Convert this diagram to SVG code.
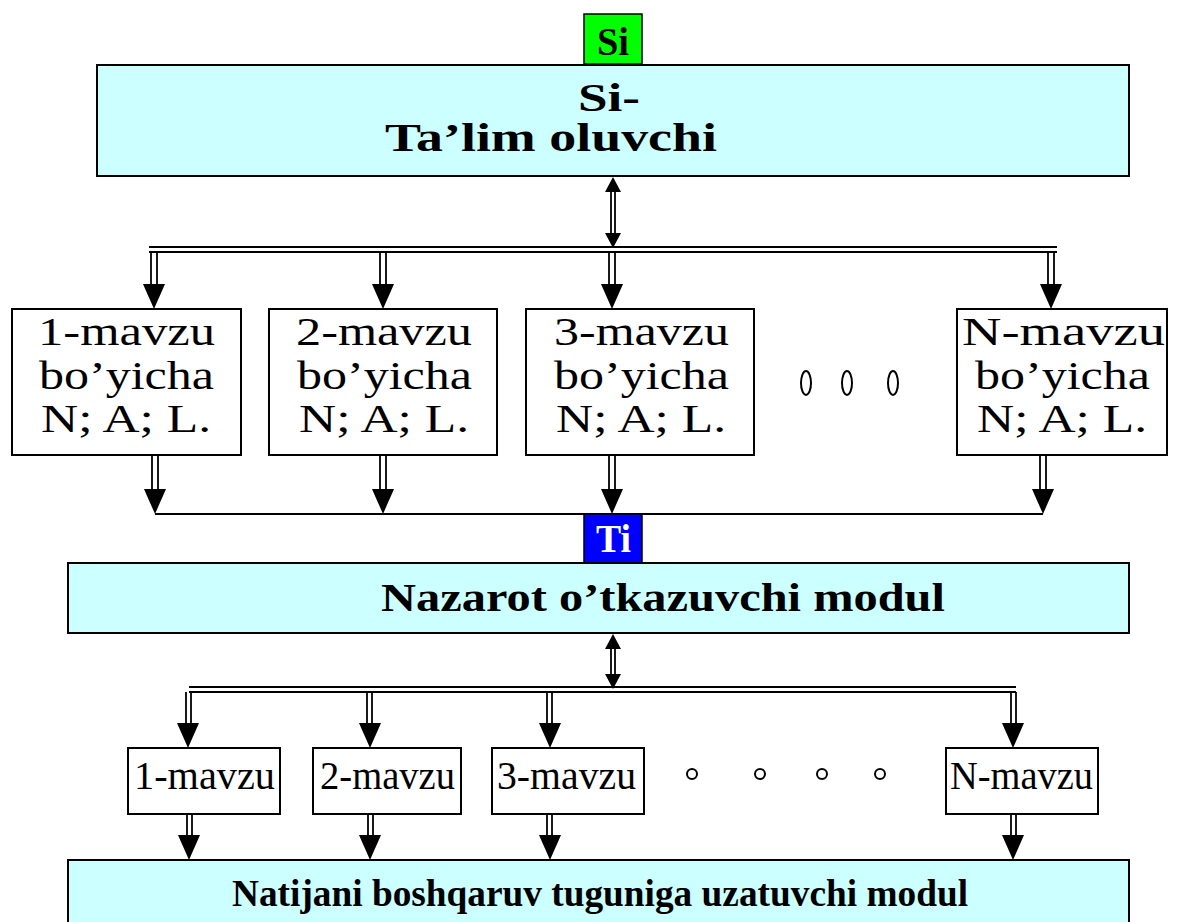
<svg xmlns="http://www.w3.org/2000/svg" width="1179" height="922" viewBox="0 0 1179 922">
<style>
.box{fill:#fff;stroke:#000;stroke-width:2}
.cyan{fill:#ccffff;stroke:#000;stroke-width:2}
.t{font-family:"Liberation Serif","Times New Roman","DejaVu Serif",serif;font-size:39px;fill:#000}
.b{font-weight:bold}
.ln{stroke:#000;stroke-width:2;fill:none}
.dl{stroke:#000;stroke-width:1.8;fill:none}
</style>
<defs>
<path id="ah" d="M-11,-25 L11,-25 L0,0 Z" fill="#000"/>
<path id="sh" d="M-8,-15 L8,-15 L0,0 Z" fill="#000"/>
</defs>
<rect width="1179" height="922" fill="#fff"/>

<g id="connectors">
  <line class="dl" x1="611" y1="190" x2="611" y2="236"/>
  <line class="dl" x1="615" y1="190" x2="615" y2="236"/>
  <use href="#sh" transform="translate(613,177) rotate(180)"/>
  <use href="#sh" transform="translate(613,248)"/>
  <line class="dl" x1="149" y1="247" x2="1057" y2="247"/>
  <line class="dl" x1="149" y1="252" x2="1057" y2="252"/>
  <g>
    <line class="dl" x1="151" y1="252" x2="151" y2="286"/><line class="dl" x1="157" y1="252" x2="157" y2="286"/>
    <use href="#ah" transform="translate(154,309)"/>
    <line class="dl" x1="380" y1="252" x2="380" y2="286"/><line class="dl" x1="386" y1="252" x2="386" y2="286"/>
    <use href="#ah" transform="translate(383,309)"/>
    <line class="dl" x1="609" y1="252" x2="609" y2="286"/><line class="dl" x1="615" y1="252" x2="615" y2="286"/>
    <use href="#ah" transform="translate(612,309)"/>
    <line class="dl" x1="1048" y1="252" x2="1048" y2="286"/><line class="dl" x1="1054" y1="252" x2="1054" y2="286"/>
    <use href="#ah" transform="translate(1051,309)"/>
  </g>
  <g>
    <line class="dl" x1="152" y1="455" x2="152" y2="491"/><line class="dl" x1="158" y1="455" x2="158" y2="491"/>
    <use href="#ah" transform="translate(155,514)"/>
    <line class="dl" x1="380" y1="455" x2="380" y2="491"/><line class="dl" x1="386" y1="455" x2="386" y2="491"/>
    <use href="#ah" transform="translate(383,514)"/>
    <line class="dl" x1="609" y1="455" x2="609" y2="491"/><line class="dl" x1="615" y1="455" x2="615" y2="491"/>
    <use href="#ah" transform="translate(612,514)"/>
    <line class="dl" x1="1040" y1="455" x2="1040" y2="491"/><line class="dl" x1="1046" y1="455" x2="1046" y2="491"/>
    <use href="#ah" transform="translate(1043,514)"/>
    <line class="ln" x1="155" y1="514" x2="1043" y2="514"/>
  </g>
  <line class="dl" x1="611" y1="646" x2="611" y2="676"/>
  <line class="dl" x1="615" y1="646" x2="615" y2="676"/>
  <use href="#sh" transform="translate(613,634) rotate(180)"/>
  <use href="#sh" transform="translate(613,689)"/>
  <line class="dl" x1="189" y1="687" x2="1016" y2="687"/>
  <line class="dl" x1="189" y1="692" x2="1016" y2="692"/>
  <g>
    <line class="dl" x1="186" y1="692" x2="186" y2="726"/><line class="dl" x1="191" y1="692" x2="191" y2="726"/>
    <use href="#ah" transform="translate(188,748)"/>
    <line class="dl" x1="367" y1="692" x2="367" y2="726"/><line class="dl" x1="372" y1="692" x2="372" y2="726"/>
    <use href="#ah" transform="translate(370,748)"/>
    <line class="dl" x1="547" y1="692" x2="547" y2="726"/><line class="dl" x1="552" y1="692" x2="552" y2="726"/>
    <use href="#ah" transform="translate(550,748)"/>
    <line class="dl" x1="1011" y1="692" x2="1011" y2="726"/><line class="dl" x1="1016" y1="692" x2="1016" y2="726"/>
    <use href="#ah" transform="translate(1013,748)"/>
  </g>
  <g>
    <line class="dl" x1="187" y1="814" x2="187" y2="838"/><line class="dl" x1="192" y1="814" x2="192" y2="838"/>
    <use href="#ah" transform="translate(189,860)"/>
    <line class="dl" x1="368" y1="814" x2="368" y2="838"/><line class="dl" x1="373" y1="814" x2="373" y2="838"/>
    <use href="#ah" transform="translate(370,860)"/>
    <line class="dl" x1="547" y1="814" x2="547" y2="838"/><line class="dl" x1="552" y1="814" x2="552" y2="838"/>
    <use href="#ah" transform="translate(550,860)"/>
    <line class="dl" x1="1011" y1="814" x2="1011" y2="838"/><line class="dl" x1="1016" y1="814" x2="1016" y2="838"/>
    <use href="#ah" transform="translate(1013,860)"/>
  </g>
</g>

<g id="si">
  <rect x="584" y="14" width="58" height="50" fill="#00ff00" stroke="#000" stroke-width="1.5"/>
  <text class="t b" x="597" y="55" textLength="32" lengthAdjust="spacingAndGlyphs">Si</text>
</g>
<g id="talim">
  <rect class="cyan" x="97" y="65" width="1032" height="111"/>
  <text class="t b" x="578" y="111" textLength="62" lengthAdjust="spacingAndGlyphs">Si-</text>
  <text class="t b" x="385" y="151" textLength="332" lengthAdjust="spacingAndGlyphs">Ta’lim oluvchi</text>
</g>

<g id="m1">
  <rect class="box" x="12" y="309" width="229" height="146"/>
  <text class="t" x="38" y="345" textLength="177" lengthAdjust="spacingAndGlyphs">1-mavzu</text>
  <text class="t" x="39" y="389" textLength="175" lengthAdjust="spacingAndGlyphs">bo’yicha</text>
  <text class="t" x="41" y="432" textLength="170" lengthAdjust="spacingAndGlyphs">N; A; L.</text>
</g>
<g id="m2">
  <rect class="box" x="269" y="309" width="228" height="146"/>
  <text class="t" x="296" y="345" textLength="176" lengthAdjust="spacingAndGlyphs">2-mavzu</text>
  <text class="t" x="297" y="389" textLength="175" lengthAdjust="spacingAndGlyphs">bo’yicha</text>
  <text class="t" x="299" y="432" textLength="170" lengthAdjust="spacingAndGlyphs">N; A; L.</text>
</g>
<g id="m3">
  <rect class="box" x="526" y="309" width="228" height="146"/>
  <text class="t" x="554" y="345" textLength="175" lengthAdjust="spacingAndGlyphs">3-mavzu</text>
  <text class="t" x="554" y="389" textLength="175" lengthAdjust="spacingAndGlyphs">bo’yicha</text>
  <text class="t" x="556" y="432" textLength="170" lengthAdjust="spacingAndGlyphs">N; A; L.</text>
</g>
<g id="dots1">
  <ellipse cx="806" cy="383" rx="5" ry="12" fill="none" stroke="#000" stroke-width="2"/>
  <ellipse cx="847" cy="383" rx="5" ry="12" fill="none" stroke="#000" stroke-width="2"/>
  <ellipse cx="893" cy="383" rx="5" ry="12" fill="none" stroke="#000" stroke-width="2"/>
</g>
<g id="mN">
  <rect class="box" x="957" y="309" width="210" height="146"/>
  <text class="t" x="962" y="345" textLength="203" lengthAdjust="spacingAndGlyphs">N-mavzu</text>
  <text class="t" x="975" y="389" textLength="175" lengthAdjust="spacingAndGlyphs">bo’yicha</text>
  <text class="t" x="977" y="432" textLength="170" lengthAdjust="spacingAndGlyphs">N; A; L.</text>
</g>

<g id="ti">
  <rect x="584" y="514" width="58" height="49" fill="#0000ff" stroke="#000" stroke-width="1.5"/>
  <text class="t b" x="596" y="552" textLength="35" lengthAdjust="spacingAndGlyphs" style="fill:#fff">Ti</text>
</g>
<g id="nazorat">
  <rect class="cyan" x="68" y="563" width="1061" height="70"/>
  <text class="t b" x="381" y="611" textLength="564" lengthAdjust="spacingAndGlyphs">Nazarot o’tkazuvchi modul</text>
</g>

<g id="r1">
  <rect class="box" x="128" y="748" width="152" height="66"/>
  <text class="t" x="134" y="789" textLength="141" lengthAdjust="spacingAndGlyphs">1-mavzu</text>
</g>
<g id="r2">
  <rect class="box" x="313" y="748" width="148" height="66"/>
  <text class="t" x="320" y="789" textLength="135" lengthAdjust="spacingAndGlyphs">2-mavzu</text>
</g>
<g id="r3">
  <rect class="box" x="492" y="748" width="152" height="66"/>
  <text class="t" x="497" y="789" textLength="139" lengthAdjust="spacingAndGlyphs">3-mavzu</text>
</g>
<g id="dots2">
  <circle cx="692" cy="774" r="5" fill="none" stroke="#000" stroke-width="2"/>
  <circle cx="760" cy="774" r="5" fill="none" stroke="#000" stroke-width="2"/>
  <circle cx="822" cy="774" r="5" fill="none" stroke="#000" stroke-width="2"/>
  <circle cx="880" cy="774" r="5" fill="none" stroke="#000" stroke-width="2"/>
</g>
<g id="rN">
  <rect class="box" x="946" y="748" width="152" height="66"/>
  <text class="t" x="950" y="789" textLength="143" lengthAdjust="spacingAndGlyphs">N-mavzu</text>
</g>

<g id="natija">
  <rect class="cyan" x="68" y="860" width="1061" height="70"/>
  <text class="t b" x="232" y="906" textLength="736" lengthAdjust="spacingAndGlyphs" style="font-size:37px">Natijani boshqaruv tuguniga uzatuvchi modul</text>
</g>
</svg>
